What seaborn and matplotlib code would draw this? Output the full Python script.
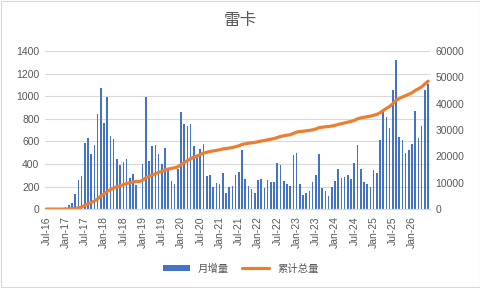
import pandas as pd
import seaborn as sns
import matplotlib.pyplot as plt
from matplotlib.patches import Rectangle

# 月份 (Jul-16 .. Jun-26)
months = pd.date_range('2016-07-01', periods=120, freq='MS').strftime('%b-%y').tolist()

# 月增量
monthly = [0, 0, 0, 0, 0, 0,
           18, 35, 53, 133, 257, 293, 585, 630, 488, 567, 842, 1073, 765, 993,
           647, 620, 443, 390, 417, 443, 272, 310, 213, 0, 399, 996, 425, 558, 567, 488, 399, 541, 346, 248,
           222, 357, 860, 753, 736, 753, 558, 464, 532, 576, 293, 301, 198, 230, 222, 319, 142, 198, 204, 301,
           328, 523, 266, 204, 177, 142, 257, 266, 186, 257, 239, 239, 408, 390, 248, 222, 204, 479, 496, 222,
           124, 142, 160, 239, 301, 488, 186, 160, 115, 195, 248, 355, 275, 284, 301, 266, 408, 567, 355, 239,
           223, 196, 348, 321, 615, 856, 811, 722, 1052, 1320, 642, 615, 499, 526, 580, 865, 633, 740, 1052, 1106]

# 累计总量
total = [0, 0, 0, 0, 0, 0,
         18, 53, 106, 239, 496, 789, 1374, 2004, 2492, 3059, 3901, 4974, 5739, 6732,
         7379, 7999, 8442, 8832, 9249, 9692, 9964, 10274, 10487, 10487, 10886, 11882, 12307, 12865, 13432,
         13920, 14319, 14860, 15206, 15454,
         15676, 16033, 16893, 17646, 18382, 19135, 19693, 20157, 20689, 21265, 21558, 21859, 22057, 22287,
         22509, 22828, 22970, 23168, 23372, 23673,
         24001, 24524, 24790, 24994, 25171, 25313, 25570, 25836, 26022, 26279, 26518, 26757, 27165, 27555,
         27803, 28025, 28229, 28708, 29204, 29426,
         29550, 29692, 29852, 30091, 30392, 30880, 31066, 31226, 31341, 31536, 31784, 32139, 32414, 32698,
         32999, 33265, 33673, 34240, 34595, 34834,
         35057, 35253, 35601, 35922, 36537, 37393, 38204, 38926, 39978, 41298, 41940, 42555, 43054, 43580,
         44160, 45025, 45658, 46398, 47450, 48556]

df = pd.DataFrame({'month': months, 'monthly': monthly, 'total': total, 'pos': range(len(months))})

sns.set_style('white')
plt.rcParams['font.family'] = ['Liberation Sans', 'Noto Sans CJK SC']

fig = plt.figure(figsize=(4.81, 2.88), dpi=100)
ax = fig.add_axes([0.0936, 0.274, 0.8004, 0.549])

sns.barplot(data=df, x='month', y='monthly', color='#4472C4', saturation=1, width=0.5,
            linewidth=0, ax=ax, label='月增量')
for p in ax.patches:
    p.set_antialiased(False)
ax.set_ylim(0, 1400)
ax.set_yticks(range(0, 1401, 200))
ax.grid(axis='y', color='#D9D9D9', linewidth=0.8)
ax.set_axisbelow(True)

ax2 = ax.twinx()
sns.lineplot(data=df, x='pos', y='total', color='#ED7D31', linewidth=2.3, ax=ax2, label='累计总量')
ax2.set_ylim(0, 60000)
ax2.set_yticks(range(0, 60001, 10000))

h1, l1 = ax.get_legend_handles_labels()
h2, l2 = ax2.get_legend_handles_labels()
for a in (ax, ax2):
    if a.get_legend() is not None:
        a.get_legend().remove()

ax.set_xlim(-0.4, 119.6)
ax.set_xticks(range(0, 120, 6))
ax.set_xticklabels(months[::6], rotation=90)

for a in (ax, ax2):
    for s in ['top', 'left', 'right']:
        a.spines[s].set_visible(False)
    a.spines['bottom'].set_color('#D9D9D9')
    a.set_xlabel('')
    a.set_ylabel('')
    a.tick_params(labelsize=7.5, colors='#595959', length=0, pad=4)
ax.tick_params(axis='x', length=3, color='#D9D9D9', pad=2)

fig.suptitle('雷卡', y=0.955, fontsize=12, color='#595959')

fig.legend(h1 + h2, l1 + l2, loc='center', bbox_to_anchor=(0.5, 0.068), ncol=2, frameon=False,
           fontsize=7.5, labelcolor='#595959', handlelength=2.6, handleheight=0.5, columnspacing=1.2)

fig.patches.append(Rectangle((0.002, 0.002), 0.995, 0.995, transform=fig.transFigure,
                             fill=False, edgecolor='#D9D9D9', linewidth=0.8))

fig.savefig('out.png', dpi=100)
